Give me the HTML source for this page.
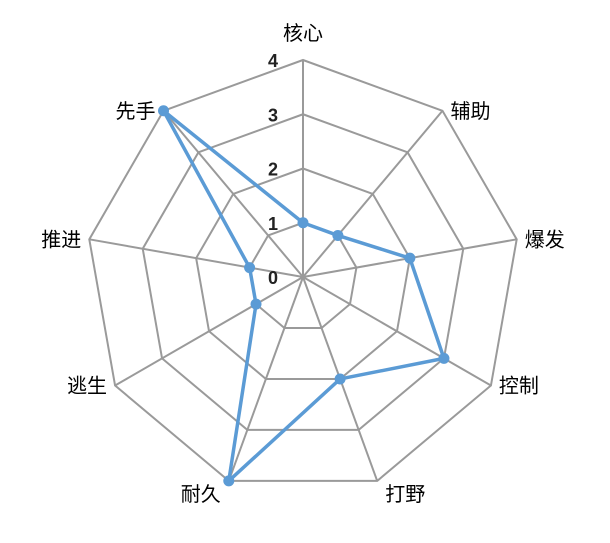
<!DOCTYPE html>
<html><head><meta charset="utf-8"><style>
html,body{margin:0;padding:0;background:#fff;}
svg text{font-family:"Liberation Sans","Noto Sans CJK SC",sans-serif;}
</style></head><body>
<svg id="chart" width="610" height="538"></svg>
<script>
const categories=["核心","辅助","爆发","控制","打野","耐久","逃生","推进","先手"];
const values=[1,1,2,3,2,4,1,1,4];
const ticks=[0,1,2,3,4];
const cx=303,cy=277,R=217,maxV=4;
const ns="http://www.w3.org/2000/svg";
const svg=document.getElementById("chart");
function ang(i){return i*2*Math.PI/categories.length;}
function pt(i,v){const r=v/maxV*R;return [cx+r*Math.sin(ang(i)),cy-r*Math.cos(ang(i))];}
function mk(t,a){const e=document.createElementNS(ns,t);for(const k in a)e.setAttribute(k,a[k]);svg.appendChild(e);return e;}
// grid rings
ticks.slice(1).forEach(t=>{
  const p=categories.map((c,i)=>pt(i,t).join(",")).join(" ");
  const g=mk("polygon",{points:p,fill:"none",stroke:"#9a9a9a","stroke-width":2});
  
  
});
// spokes
categories.forEach((c,i)=>{
  const [x,y]=pt(i,maxV);
  const l=mk("line",{x1:cx,y1:cy,x2:x,y2:y,stroke:"#9a9a9a","stroke-width":2});
  
  
});
// tick labels
ticks.forEach(t=>{
  const [x,y]=pt(0,t);
  const tx=mk("text",{x:x-30,y:y+7,"font-size":18,"font-weight":"bold",fill:"#222","text-anchor":"middle"});
  tx.textContent=t;
  
  
});
// category labels
categories.forEach((c,i)=>{
  const a=ang(i),s=Math.sin(a),co=Math.cos(a);
  const [x,y]=pt(i,maxV);
  let anchor="middle",dx=0,dy=7;
  if(s>0.3){anchor="start";dx=8;}else if(s<-0.3){anchor="end";dx=-8;}
  if(i===0){dy=-20;}
  if(Math.abs(s)<0.5&&co<0){dy=20;}
  const tx=mk("text",{x:x+dx,y:y+dy,"font-size":20,fill:"#000","text-anchor":anchor});
  tx.textContent=c;
  
  
});
// series
const sp=values.map((v,i)=>pt(i,v).join(",")).join(" ");
const poly=mk("polygon",{points:sp,fill:"none",stroke:"#5b9bd5","stroke-width":3.5,"stroke-linejoin":"round"});


values.forEach((v,i)=>{
  const [x,y]=pt(i,v);
  const c=mk("circle",{cx:x,cy:y,r:5.5,fill:"#5b9bd5"});
  
  
});
</script>
</body></html>
